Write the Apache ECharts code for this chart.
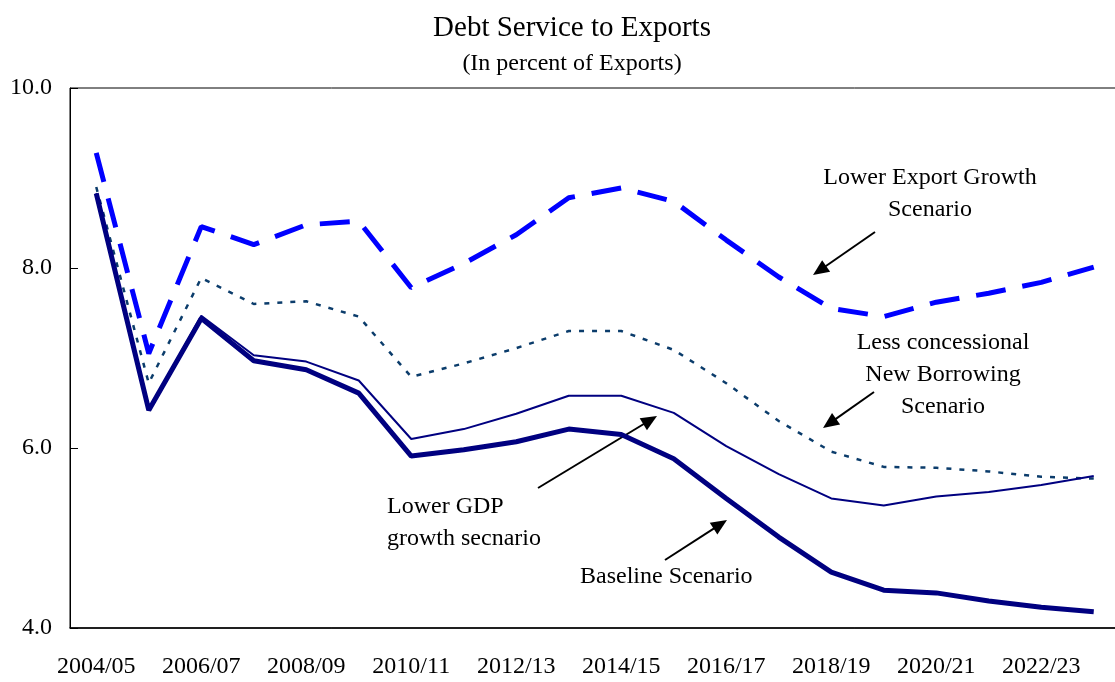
<!DOCTYPE html>
<html>
<head>
<meta charset="utf-8">
<script src="https://cdn.jsdelivr.net/npm/echarts@6/dist/echarts.min.js"></script>
<style>
html,body{margin:0;padding:0;background:#fff;}
#chart{width:1115px;height:682px;}
</style>
</head>
<body>
<div id="chart"></div>
<script>
var categories = ['2004/05','2005/06','2006/07','2007/08','2008/09','2009/10','2010/11','2011/12','2012/13','2013/14','2014/15','2015/16','2016/17','2017/18','2018/19','2019/20','2020/21','2021/22','2022/23','2023/24'];
var baseline = [8.83,6.42,7.44,6.97,6.87,6.61,5.91,5.98,6.07,6.21,6.15,5.88,5.44,5.01,4.62,4.42,4.39,4.30,4.23,4.18];
var lowerGDP = [8.83,6.42,7.47,7.03,6.96,6.75,6.10,6.21,6.38,6.58,6.58,6.39,6.02,5.71,5.44,5.36,5.46,5.51,5.59,5.69];
var lessConcessional = [8.90,6.72,7.89,7.60,7.63,7.46,6.79,6.94,7.11,7.30,7.30,7.09,6.72,6.30,5.96,5.79,5.78,5.74,5.68,5.66];
var lowerExport = [9.28,7.05,8.46,8.26,8.48,8.52,7.78,8.05,8.37,8.78,8.89,8.74,8.31,7.90,7.55,7.46,7.62,7.72,7.84,8.01];
var yTicks = [4, 6, 8, 10];

var FONT = '"Liberation Serif", "Times New Roman", serif';

function arrow(x1, y1, x2, y2) {
  var dx = x2 - x1, dy = y2 - y1, len = Math.sqrt(dx*dx + dy*dy);
  var ux = dx/len, uy = dy/len, hl = 16, hw = 7;
  var bx = x2 - ux*hl, by = y2 - uy*hl;
  return [
    {type:'line', shape:{x1:x1,y1:y1,x2:bx+ux*2,y2:by+uy*2}, style:{stroke:'#000', lineWidth:2}},
    {type:'polygon', shape:{points:[[x2,y2],[bx - uy*hw, by + ux*hw],[bx + uy*hw, by - ux*hw]]}, style:{fill:'#000'}}
  ];
}
function label(lines, x, y0, align) {
  return lines.map(function(t, i){
    return {type:'text', style:{text:t, x:x, y:y0 + i*32, textAlign:align, textVerticalAlign:'middle', font:'24px ' + FONT, fill:'#000'}};
  });
}

var graphics = [].concat(
  label(['Lower Export Growth','Scenario'], 930, 178, 'center'),
  arrow(875, 232, 813, 275),
  label(['Less concessional','New Borrowing','Scenario'], 943, 343, 'center'),
  arrow(874, 392, 823, 428),
  label(['Lower GDP','growth secnario'], 387, 507, 'left'),
  arrow(538, 488, 657, 416),
  label(['Baseline Scenario'], 580, 577, 'left'),
  arrow(665, 560, 727, 520)
);

var chart = echarts.init(document.getElementById('chart'));
chart.setOption({
  animation: false,
  backgroundColor: '#fff',
  title: {
    text: 'Debt Service to Exports',
    subtext: '(In percent of Exports)',
    left: 567, top: 9, textAlign: 'center', itemGap: 9,
    textStyle: {fontFamily: FONT, fontSize: 29, fontWeight: 'normal', color: '#000'},
    subtextStyle: {fontFamily: FONT, fontSize: 24, color: '#000'}
  },
  grid: {left: 70, top: 88, width: 1050, height: 540, containLabel: false, outerBoundsMode: 'none',
         show: true, borderColor: '#000', borderWidth: 1, backgroundColor: 'transparent'},
  xAxis: {
    type: 'category', data: categories, boundaryGap: true,
    axisLine: {lineStyle: {color: '#000', width: 1.5}},
    axisTick: {inside: true, length: 8, interval: 0, lineStyle: {color: '#000'}},
    axisLabel: {interval: 1, margin: 27, fontFamily: FONT, fontSize: 24, color: '#000'},
    splitLine: {show: false}
  },
  yAxis: {
    type: 'value', min: yTicks[0], max: yTicks[yTicks.length-1], interval: 2,
    axisLine: {show: true, lineStyle: {color: '#000', width: 1}},
    axisTick: {show: true, inside: true, length: 8, lineStyle: {color: '#000'}},
    axisLabel: {margin: 18, fontFamily: FONT, fontSize: 24, color: '#000', formatter: function(v){return v.toFixed(1);}},
    splitLine: {show: false}
  },
  series: [
    {name: 'Less concessional New Borrowing Scenario', type: 'line', data: lessConcessional, showSymbol: false, symbol: 'none',
     lineStyle: {color: '#0b3c6b', width: 2.5, type: [5, 8]}},
    {name: 'Lower Export Growth Scenario', type: 'line', data: lowerExport, showSymbol: false, symbol: 'none',
     lineStyle: {color: '#0000ff', width: 5, type: [30, 17]}},
    {name: 'Lower GDP growth scenario', type: 'line', data: lowerGDP, showSymbol: false, symbol: 'none',
     lineStyle: {color: '#000080', width: 2}},
    {name: 'Baseline Scenario', type: 'line', data: baseline, showSymbol: false, symbol: 'none',
     lineStyle: {color: '#000080', width: 5}}
  ],
  graphic: graphics
});
</script>
</body>
</html>
